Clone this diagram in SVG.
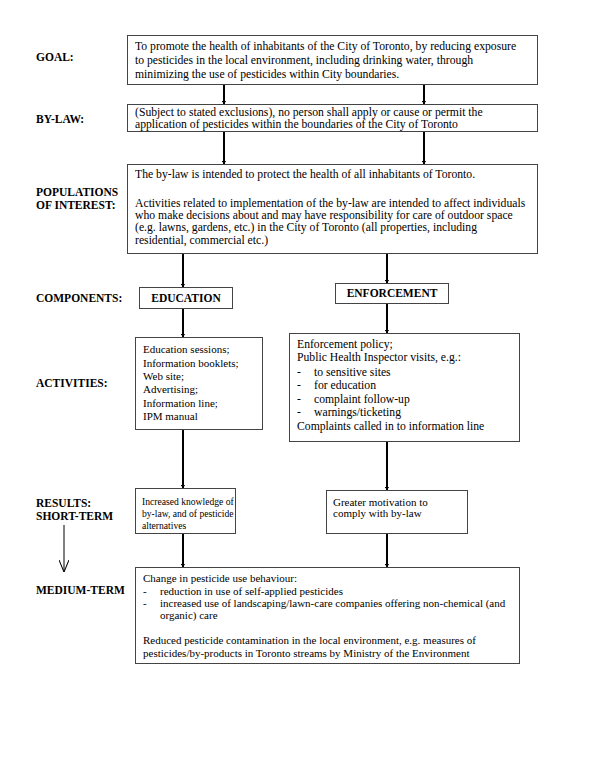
<svg xmlns="http://www.w3.org/2000/svg" width="600" height="776" viewBox="0 0 600 776">
<defs>
<marker id="ah" viewBox="0 0 10 10" refX="10" refY="5" markerWidth="3.5" markerHeight="5" markerUnits="userSpaceOnUse" orient="auto" preserveAspectRatio="none">
<path d="M0,0 L10,5 L0,10 z" fill="#000"/>
</marker>
<marker id="vh" viewBox="0 0 10 10" refX="10" refY="5" markerWidth="12" markerHeight="10" markerUnits="userSpaceOnUse" orient="auto" preserveAspectRatio="none">
<path d="M0,0 L10,5 L0,10" fill="none" stroke="#000" stroke-width="1"/>
</marker>
<style>
.box{fill:#fff;stroke:#444;stroke-width:1}
.t{font-family:"Liberation Serif","Times New Roman",serif;font-size:11px;fill:#000}
.L{font-size:11.7px}
.s{font-size:9.6px}
.b{font-family:"Liberation Serif","Times New Roman",serif;font-size:11.5px;font-weight:bold;fill:#000}
.c{stroke:#000;stroke-width:2;fill:none}
</style>
</defs>
<rect width="600" height="776" fill="#fff"/>
<g id="labels">
<text class="b" x="36" y="61">GOAL:</text>
<text class="b" x="36" y="123">BY-LAW:</text>
<text class="b" x="36" y="196">POPULATIONS</text>
<text class="b" x="36" y="209">OF INTEREST:</text>
<text class="b" x="36" y="302">COMPONENTS:</text>
<text class="b" x="36" y="387">ACTIVITIES:</text>
<text class="b" x="36" y="507">RESULTS:</text>
<text class="b" x="36" y="520">SHORT-TERM</text>
<text class="b" x="36" y="594">MEDIUM-TERM</text>
</g>
<g id="connectors">
<line class="c" x1="224" y1="84" x2="224" y2="104" marker-end="url(#ah)"/>
<line class="c" x1="424" y1="84" x2="424" y2="104" marker-end="url(#ah)"/>
<line class="c" x1="224" y1="131" x2="224" y2="164" marker-end="url(#ah)"/>
<line class="c" x1="424" y1="131" x2="424" y2="164" marker-end="url(#ah)"/>
<line class="c" x1="183" y1="253" x2="183" y2="287" marker-end="url(#ah)"/>
<line class="c" x1="387" y1="253" x2="387" y2="283" marker-end="url(#ah)"/>
<line class="c" x1="183" y1="308" x2="183" y2="337" marker-end="url(#ah)"/>
<line class="c" x1="387" y1="303" x2="387" y2="333" marker-end="url(#ah)"/>
<line class="c" x1="183" y1="429" x2="183" y2="488" marker-end="url(#ah)"/>
<line class="c" x1="387" y1="441" x2="387" y2="490" marker-end="url(#ah)"/>
<line class="c" x1="183" y1="533" x2="183" y2="567" marker-end="url(#ah)"/>
<line class="c" x1="387" y1="533" x2="387" y2="567" marker-end="url(#ah)"/>
<line x1="64" y1="525" x2="64" y2="572" stroke="#000" stroke-width="1" marker-end="url(#vh)"/>
</g>
<g id="goal">
<rect class="box" x="127.5" y="35.5" width="410" height="49"/>
<text class="t L" x="135" y="50">To promote the health of inhabitants of the City of Toronto, by reducing exposure</text>
<text class="t L" x="135" y="64">to pesticides in the local environment, including drinking water, through</text>
<text class="t L" x="135" y="77.5">minimizing the use of pesticides within City boundaries.</text>
</g>
<g id="bylaw">
<rect class="box" x="127.5" y="104.5" width="410" height="27"/>
<text class="t L" x="135" y="116">(Subject to stated exclusions), no person shall apply or cause or permit the</text>
<text class="t L" x="135" y="128">application of pesticides within the boundaries of the City of Toronto</text>
</g>
<g id="populations">
<rect class="box" x="127.5" y="164.5" width="410" height="89"/>
<text class="t L" x="135" y="178">The by-law is intended to protect the health of all inhabitants of Toronto.</text>
<text class="t L" x="135" y="207">Activities related to implementation of the by-law are intended to affect individuals</text>
<text class="t L" x="135" y="219">who make decisions about and may have responsibility for care of outdoor space</text>
<text class="t L" x="135" y="231">(e.g. lawns, gardens, etc.) in the City of Toronto (all properties, including</text>
<text class="t L" x="135" y="244">residential, commercial etc.)</text>
</g>
<g id="education">
<rect class="box" x="139.5" y="287.5" width="93" height="21"/>
<text class="b" x="186" y="302" text-anchor="middle">EDUCATION</text>
</g>
<g id="enforcement">
<rect class="box" x="335.5" y="283.5" width="113" height="20"/>
<text class="b" x="392" y="297" text-anchor="middle">ENFORCEMENT</text>
</g>
<g id="edu-activities">
<rect class="box" x="135.5" y="337.5" width="127" height="92"/>
<text class="t" x="143" y="353">Education sessions;</text>
<text class="t" x="143" y="366.5">Information booklets;</text>
<text class="t" x="143" y="380">Web site;</text>
<text class="t" x="143" y="393">Advertising;</text>
<text class="t" x="143" y="406.5">Information line;</text>
<text class="t" x="143" y="420">IPM manual</text>
</g>
<g id="enf-activities">
<rect class="box" x="289.5" y="333.5" width="230" height="108"/>
<text class="t L" x="297" y="348">Enforcement policy;</text>
<text class="t L" x="297" y="361">Public Health Inspector visits, e.g.:</text>
<text class="t L" x="297" y="375.5">-</text><text class="t L" x="314" y="375.5">to sensitive sites</text>
<text class="t L" x="297" y="389">-</text><text class="t L" x="314" y="389">for education</text>
<text class="t L" x="297" y="403">-</text><text class="t L" x="314" y="403">complaint follow-up</text>
<text class="t L" x="297" y="415.5">-</text><text class="t L" x="314" y="415.5">warnings/ticketing</text>
<text class="t L" x="297" y="430">Complaints called in to information line</text>
</g>
<g id="short-knowledge">
<rect class="box" x="135.5" y="488.5" width="100" height="45"/>
<text class="t s" x="142" y="505">Increased knowledge of</text>
<text class="t s" x="142" y="517">by-law, and of pesticide</text>
<text class="t s" x="142" y="529">alternatives</text>
</g>
<g id="short-motivation">
<rect class="box" x="326.5" y="490.5" width="141" height="43"/>
<text class="t" x="333" y="505.5">Greater motivation to</text>
<text class="t" x="333" y="517">comply with by-law</text>
</g>
<g id="medium">
<rect class="box" x="135.5" y="567.5" width="384" height="96"/>
<text class="t" x="143" y="582">Change in pesticide use behaviour:</text>
<text class="t" x="143" y="594.5">-</text><text class="t" x="160" y="594.5">reduction in use of self-applied pesticides</text>
<text class="t" x="143" y="606.5">-</text><text class="t" x="160" y="606.5">increased use of landscaping/lawn-care companies offering non-chemical (and</text>
<text class="t" x="160" y="619">organic) care</text>
<text class="t" x="143" y="644">Reduced pesticide contamination in the local environment, e.g.  measures of</text>
<text class="t" x="143" y="657">pesticides/by-products in Toronto streams by Ministry of the Environment</text>
</g>
</svg>
